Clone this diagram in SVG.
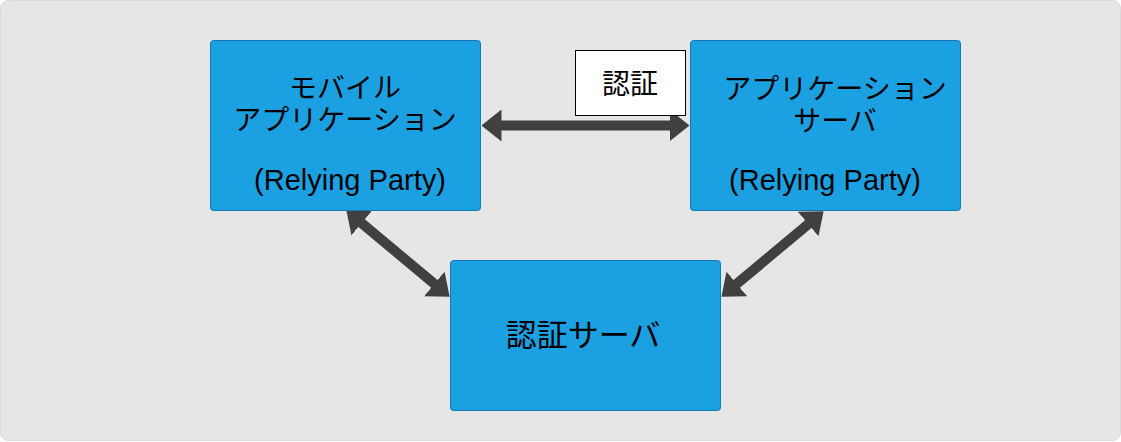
<svg xmlns="http://www.w3.org/2000/svg" width="1121" height="442" viewBox="0 0 1121 442">
<style>
.bg{fill:#e6e6e6;stroke:#dadada;stroke-width:1}
.node{fill:#1ba1e2;stroke:#1575b5;stroke-width:1}
.lbl{fill:#ffffff;stroke:#000000;stroke-width:1}
.t{font-family:"Liberation Sans","Noto Sans CJK JP",sans-serif;fill:#000000;text-anchor:middle}
.jp{font-size:28px}
.en{font-size:29px}
.conn{stroke:#404040;stroke-width:10;fill:none;marker-start:url(#head);marker-end:url(#head)}
</style>
<defs>
<marker id="head" markerUnits="userSpaceOnUse" viewBox="0 0 20 32" refX="0.5" refY="16" markerWidth="20" markerHeight="32" orient="auto-start-reverse">
<path d="M0,0 L20,16 L0,32 Z" fill="#404040"/>
</marker>
</defs>
<rect class="bg" x="0.5" y="0.5" width="1120" height="440" rx="8" ry="8"/>
<g id="connectors">
<line class="conn" x1="501" y1="125.5" x2="670" y2="125.5"/>
<line class="conn" x1="361.3" y1="222.8" x2="434.7" y2="284.2"/>
<line class="conn" x1="808.6" y1="223.8" x2="736.4" y2="284.2"/>
</g>
<g id="mobile-app">
<rect class="node" x="210.5" y="40.5" width="270" height="170" rx="3" ry="3"/>
<text class="t jp" x="345" y="98">モバイル</text>
<text class="t jp" x="345" y="130">アプリケーション</text>
<text class="t en" x="350" y="190">(Relying Party)</text>
</g>
<g id="app-server">
<rect class="node" x="690.5" y="40.5" width="270" height="170" rx="3" ry="3"/>
<text class="t jp" x="835" y="99">アプリケーション</text>
<text class="t jp" x="835" y="131">サーバ</text>
<text class="t en" x="825" y="190">(Relying Party)</text>
</g>
<g id="auth-server">
<rect class="node" x="450.5" y="260.5" width="270" height="150" rx="3" ry="3"/>
<text class="t" style="font-size:31px" x="583" y="346">認証サーバ</text>
</g>
<g id="auth-label">
<rect class="lbl" x="575.5" y="50.5" width="110" height="65"/>
<text class="t jp" x="630" y="94">認証</text>
</g>
</svg>
